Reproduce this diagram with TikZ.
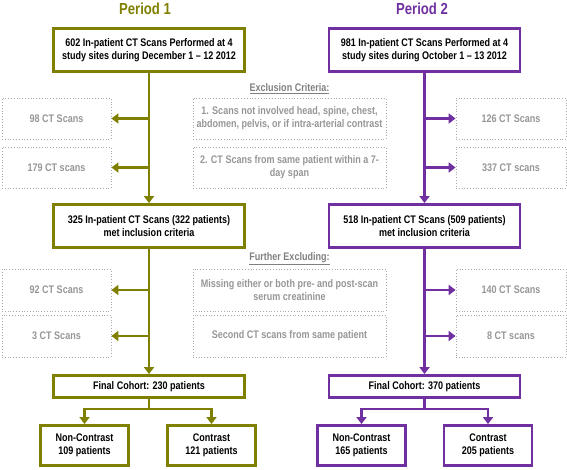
\documentclass[tikz,border=0pt]{standalone}
\usepackage{fontspec}
\setmainfont{Liberation Sans}[FakeStretch=0.82]
\usetikzlibrary{arrows.meta}
\definecolor{olivec}{RGB}{128,128,0}
\definecolor{purplec}{RGB}{112,48,160}
\definecolor{greytxt}{RGB}{150,150,150}
\definecolor{greyhead}{RGB}{128,128,128}
\definecolor{greyline}{RGB}{170,170,170}
\tikzset{
  mainbox/.style={draw, line width=2.8pt, fill=white, align=center, font=\bfseries\fontsize{11}{13}\selectfont, inner sep=0pt},
  exbox/.style={draw=greyline, dotted, line width=0.8pt, align=center, text=greytxt, font=\bfseries\fontsize{11}{13}\selectfont, inner sep=0pt},
  heading/.style={text=greyhead, font=\bfseries\fontsize{11}{13}\selectfont},
  title/.style={font=\bfseries\fontsize{16}{18}\selectfont},
  arr/.style={line width=2.8pt, -{Triangle[length=7pt,width=10pt]}},
}
\begin{document}
\begin{tikzpicture}[x=1pt,y=-1pt]
\useasboundingbox (0,0) rectangle (567,470);
% titles
\node[title, text=olivec] (t1) at (145,8.5) {Period 1};
\node[title, text=purplec] (t2) at (422,8.5) {Period 2};
% headings
\node[heading] (h1) at (289.5,89) {\underline{Exclusion Criteria:}};
\node[heading] (h2) at (289.5,259) {\underline{Further Excluding:}};
% middle criteria boxes
\node[exbox, minimum width=193, minimum height=41] (c1) at (289.5,118.5) {1. Scans not involved head, spine, chest,\\abdomen, pelvis, or if intra-arterial contrast};
\node[exbox, minimum width=193, minimum height=41] (c2) at (289.5,167.5) {2. CT Scans from same patient within a 7-\\day span};
\node[exbox, minimum width=193, minimum height=42] (c3) at (289.5,290) {Missing either or both pre- and post-scan\\serum creatinine};
\node[exbox, minimum width=193, minimum height=42] (c4) at (289.5,336) {Second CT scans from same patient};
% left excluded
\node[exbox, minimum width=109, minimum height=41] (l1) at (56.5,118.5) {98 CT Scans};
\node[exbox, minimum width=109, minimum height=41] (l2) at (56.5,167.5) {179 CT scans};
\node[exbox, minimum width=109, minimum height=42] (l3) at (56.5,290) {92 CT Scans};
\node[exbox, minimum width=109, minimum height=42] (l4) at (56.5,336) {3 CT Scans};
% right excluded
\node[exbox, minimum width=110, minimum height=41] (r1) at (511,118.5) {126 CT Scans};
\node[exbox, minimum width=110, minimum height=41] (r2) at (511,167.5) {337 CT scans};
\node[exbox, minimum width=110, minimum height=42] (r3) at (511,290) {140 CT Scans};
\node[exbox, minimum width=110, minimum height=42] (r4) at (511,336) {8 CT scans};
% period 1 main
\begin{scope}[color=olivec]
\node[mainbox, text=black, minimum width=191, minimum height=43] (a1) at (149,50) {602 In-patient CT Scans Performed at 4\\study sites during December 1 -- 12 2012};
\node[mainbox, text=black, minimum width=191, minimum height=43] (a2) at (149,226) {325 In-patient CT Scans (322 patients)\\met inclusion criteria};
\node[mainbox, text=black, minimum width=191, minimum height=22] (a3) at (149,386.5) {Final Cohort: 230 patients};
\node[mainbox, text=black, minimum width=88, minimum height=40] (a4) at (84.5,445.5) {Non-Contrast\\109 patients};
\node[mainbox, text=black, minimum width=88, minimum height=40] (a5) at (211.5,445.5) {Contrast\\121 patients};
\draw[arr] (a1.south) -- (a2.north);
\draw[arr] (a1.south |- l1.east) -- (l1.east);
\draw[arr] (a1.south |- l2.east) -- (l2.east);
\draw[arr] (a2.south) -- (a3.north);
\draw[arr] (a2.south |- l3.east) -- (l3.east);
\draw[arr] (a2.south |- l4.east) -- (l4.east);
\draw[arr] (a3.south) -- ++(0,10) -| (a4.north);
\draw[arr] (a3.south) -- ++(0,10) -| (a5.north);
\end{scope}
% period 2 main
\begin{scope}[color=purplec]
\node[mainbox, text=black, minimum width=191, minimum height=43] (b1) at (424.5,50) {981 In-patient CT Scans Performed at 4\\study sites during October 1 -- 13 2012};
\node[mainbox, text=black, minimum width=191, minimum height=43] (b2) at (424.5,226) {518 In-patient CT Scans (509 patients)\\met inclusion criteria};
\node[mainbox, text=black, minimum width=191, minimum height=22] (b3) at (424.5,386.5) {Final Cohort: 370 patients};
\node[mainbox, text=black, minimum width=88, minimum height=40] (b4) at (361.5,445.5) {Non-Contrast\\165 patients};
\node[mainbox, text=black, minimum width=88, minimum height=40] (b5) at (488,445.5) {Contrast\\205 patients};
\draw[arr] (b1.south) -- (b2.north);
\draw[arr] (b1.south |- r1.west) -- (r1.west);
\draw[arr] (b1.south |- r2.west) -- (r2.west);
\draw[arr] (b2.south) -- (b3.north);
\draw[arr] (b2.south |- r3.west) -- (r3.west);
\draw[arr] (b2.south |- r4.west) -- (r4.west);
\draw[arr] (b3.south) -- ++(0,10) -| (b4.north);
\draw[arr] (b3.south) -- ++(0,10) -| (b5.north);
\end{scope}
\end{tikzpicture}
\end{document}
